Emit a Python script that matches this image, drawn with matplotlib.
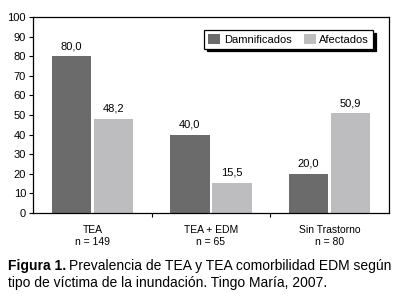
import matplotlib
matplotlib.use("Agg")
import matplotlib.pyplot as plt
import numpy as np

categories = ["TEA\nn = 149", "TEA + EDM\nn = 65", "Sin Trastorno\nn = 80"]
series_names = ["Damnificados", "Afectados"]
damnificados = [80.0, 40.0, 20.0]
afectados = [48.2, 15.5, 50.9]
yticks = list(range(0, 101, 10))

dark = "#6b6b6b"
light = "#bdbdc0"

W, H = 401, 297
fig = plt.figure(figsize=(W / 100, H / 100), dpi=100)
plt.rcParams['font.family'] = ['Liberation Sans', 'DejaVu Sans']

ax = fig.add_axes([33 / W, (H - 213) / H, (389 - 33) / W, (213 - 17) / H])
x = np.arange(len(categories))
bw = 0.33
gap = 0.025
b1 = ax.bar(x - bw / 2 - gap / 2, damnificados, bw, color=dark, label=series_names[0])
b2 = ax.bar(x + bw / 2 + gap / 2, afectados, bw, color=light, label=series_names[1])
for bars, vals in ((b1, damnificados), (b2, afectados)):
    for r, v in zip(bars, vals):
        ax.text(r.get_x() + r.get_width() / 2, v + 2.5, f"{v:.1f}".replace(".", ","),
                ha="center", va="bottom", fontsize=8)

ax.set_xlim(-0.5, 2.5)
ax.set_ylim(0, 100)
ax.set_yticks(yticks)
ax.set_yticklabels([str(t) for t in yticks], fontsize=8)
ax.set_xticks([0.5, 1.5])
ax.set_xticklabels([])
ax.tick_params(axis="x", direction="out", length=3, width=0.8)
ax.tick_params(axis="y", direction="out", length=3, width=0.8, pad=2)
for i, c in enumerate(categories):
    ax.text(i, -6, c, ha="center", va="top", fontsize=7.5, linespacing=1.3)
for s in ax.spines.values():
    s.set_linewidth(0.9)

leg = ax.legend(loc="upper right", bbox_to_anchor=(0.955, 0.935), ncol=2, fontsize=8,
                frameon=True, fancybox=False, shadow={'color': 'black', 'alpha': 1},
                handlelength=1.1, handleheight=1.1, handletextpad=0.3, columnspacing=1.1,
                borderpad=0.35, edgecolor="black", borderaxespad=0)
leg.get_frame().set_linewidth(0.9)

y1 = 1 - 266 / H
t = fig.text(8 / W, y1, "Figura 1.", fontsize=10, fontweight="bold", va="center", ha="left")
fig.canvas.draw()
bb = t.get_window_extent(renderer=fig.canvas.get_renderer())
fig.text((bb.x1 + 3) / W, y1, "Prevalencia de TEA y TEA comorbilidad EDM según",
         fontsize=10, va="center", ha="left")
fig.text(8 / W, 1 - 283 / H, "tipo de víctima de la inundación. Tingo María, 2007.",
         fontsize=10, va="center", ha="left")

fig.savefig("out.png", dpi=100)
